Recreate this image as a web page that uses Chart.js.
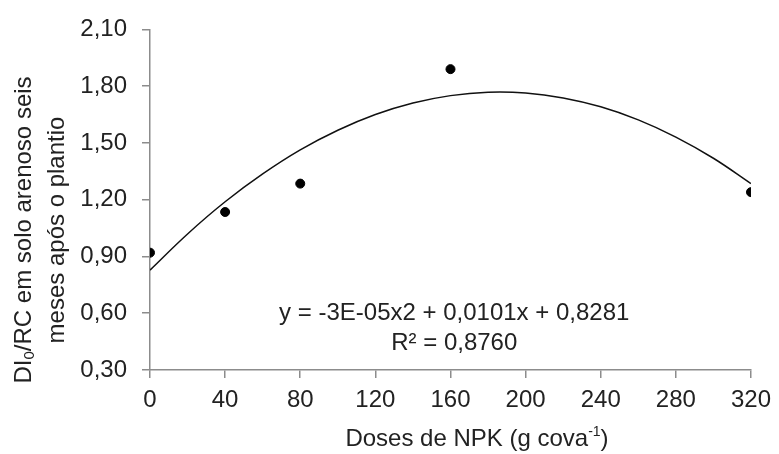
<!DOCTYPE html>
<html>
<head>
<meta charset="utf-8">
<script src="https://cdn.jsdelivr.net/npm/chart.js@4/dist/chart.umd.min.js"></script>
<style>
    html, body { margin: 0; padding: 0; background: #fff; }
    #chart { display: block; }
</style>
</head>
<body>
<canvas id="chart" width="779" height="454"></canvas>
<script>
// observed DI0/RC values
const doses = [0, 40, 80, 160, 320];
const diRc = [0.92, 1.135, 1.285, 1.89, 1.24];

// fitted curve, every 20 g
const trendX = [0, 20, 40, 60, 80, 100, 120, 140, 160, 180, 200, 220, 240, 260, 280, 300, 320];
const trendY = [0.828, 1.019, 1.189, 1.336, 1.463, 1.567, 1.650, 1.711, 1.750, 1.768, 1.764, 1.738, 1.691, 1.622, 1.531, 1.419, 1.285];

const xTicks = [0, 40, 80, 120, 160, 200, 240, 280, 320];
const yTicks = [0.30, 0.60, 0.90, 1.20, 1.50, 1.80, 2.10];

const equationText = 'y = -3E-05x2 + 0,0101x + 0,8281';
const r2Text = 'R² = 0,8760';

const FONT = '"Liberation Sans", Arial, sans-serif';
const TEXT_COLOR = '#222';
const AXIS_COLOR = '#8c8c8c';

document.addEventListener('DOMContentLoaded', () => {
    drawChart();
});

// draws a list of [text, size, dy] pieces centred on (cx, cy)
function drawRuns(ctx, runs, cx, cy) {
    let total = 0;
    runs.forEach(r => {
        ctx.font = r[1] + 'px ' + FONT;
        total += ctx.measureText(r[0]).width;
    });
    let x = cx - total / 2;
    ctx.textAlign = 'left';
    runs.forEach(r => {
        ctx.font = r[1] + 'px ' + FONT;
        ctx.fillText(r[0], x, cy + r[2]);
        x += ctx.measureText(r[0]).width;
    });
}

const labelsPlugin = {
    id: 'labels',
    afterDraw(chart) {
        const ctx = chart.ctx;
        const xs = chart.scales.x;
        const ys = chart.scales.y;
        ctx.save();
        ctx.fillStyle = TEXT_COLOR;
        ctx.textBaseline = 'middle';

        // equation and R2
        const ex = xs.getPixelForValue(162);
        drawRuns(ctx, [[equationText, 24, 0]], ex, ys.getPixelForValue(0.6));
        drawRuns(ctx, [[r2Text, 24, 0]], ex, ys.getPixelForValue(0.44));

        // x title
        drawRuns(ctx, [['Doses de NPK (g cova', 24, 0], ['-1', 14, -7], [')', 24, 0]], 477, 439);

        // y title, two rotated lines
        ctx.translate(0, 230);
        ctx.rotate(-Math.PI / 2);
        drawRuns(ctx, [['DI', 24, 0], ['0', 15, 6], ['/RC em solo arenoso seis', 24, 0]], 0, 24);
        drawRuns(ctx, [['meses após o plantio', 24, 0]], 0, 57);
        ctx.restore();
    }
};

function drawChart() {
    const ctx = document.getElementById('chart').getContext('2d');

    const axisCommon = {
        type: 'linear',
        border: { color: AXIS_COLOR, width: 1.5 },
        grid: { drawOnChartArea: false, color: AXIS_COLOR, lineWidth: 1.5, tickLength: 8 },
        ticks: {
            color: TEXT_COLOR,
            font: { family: FONT, size: 24 },
            autoSkip: false,
            maxRotation: 0
        }
    };

    new Chart(ctx, {
        type: 'scatter',
        data: {
            datasets: [{
                data: doses.map((d, i) => ({ x: d, y: diRc[i] })),
                backgroundColor: '#000',
                borderColor: '#000',
                pointRadius: 4.5,
                showLine: false
            }, {
                data: trendX.map((d, i) => ({ x: d, y: trendY[i] })),
                borderColor: '#111',
                borderWidth: 1.5,
                pointRadius: 0,
                showLine: true,
                tension: 0.4,
                fill: false
            }]
        },
        options: {
            responsive: false,
            animation: false,
            devicePixelRatio: 1,
            layout: { padding: { top: 25, right: 22, left: 0, bottom: 0 } },
            plugins: {
                legend: { display: false },
                tooltip: { enabled: false }
            },
            scales: {
                x: {
                    ...axisCommon,
                    min: 0,
                    max: 320,
                    afterBuildTicks: s => { s.ticks = xTicks.map(v => ({ value: v })); },
                    afterFit: s => { s.height = 84; },
                    ticks: { ...axisCommon.ticks, padding: 8 }
                },
                y: {
                    ...axisCommon,
                    min: 0.3,
                    max: 2.1,
                    afterBuildTicks: s => { s.ticks = yTicks.map(v => ({ value: v })); },
                    afterFit: s => { s.width = 150; },
                    ticks: {
                        ...axisCommon.ticks,
                        padding: 15,
                        callback: v => v.toFixed(2).replace('.', ',')
                    }
                }
            }
        },
        plugins: [labelsPlugin]
    });
}
</script>
</body>
</html>
